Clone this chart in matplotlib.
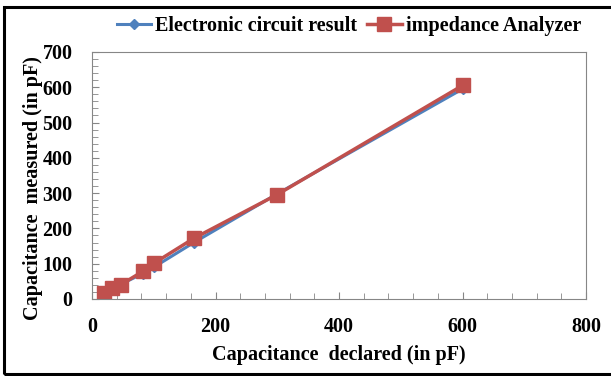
import matplotlib.pyplot as plt
from matplotlib.patches import Rectangle
from matplotlib.ticker import MultipleLocator

plt.rcParams['font.family'] = 'Liberation Serif'
plt.rcParams['font.weight'] = 'bold'

# capacitance declared (pF)
declared = [20, 33, 47, 82, 100, 165, 300, 600]
# measured values
circuit = [18, 30, 42, 72, 90, 160, 298, 595]
analyzer = [17, 31, 41, 78, 101, 172, 296, 605]

fig = plt.figure(figsize=(6.11, 3.76), dpi=100)
ax = fig.add_axes([0.1506, 0.2048, 0.8085, 0.657])

ax.plot(declared, circuit, color='#4F81BD', lw=2.2, marker='D', ms=5,
        label='Electronic circuit result')
ax.plot(declared, analyzer, color='#C0504D', lw=2.5, marker='s', ms=9.5,
        label='impedance Analyzer')

ax.set_xlim(0, 800)
ax.set_ylim(0, 700)
ax.xaxis.set_major_locator(MultipleLocator(200))
ax.xaxis.set_minor_locator(MultipleLocator(40))
ax.yaxis.set_major_locator(MultipleLocator(100))
ax.yaxis.set_minor_locator(MultipleLocator(20))
ax.tick_params(which='both', direction='in', color='#868686', top=False, right=False)
ax.tick_params(which='major', length=5, labelsize=14.5)
ax.tick_params(axis='x', which='major', pad=13)
ax.tick_params(axis='y', which='major', pad=14)
ax.tick_params(which='minor', length=4)
for s in ax.spines.values():
    s.set_color('#868686')

ax.set_xlabel('Capacitance  declared (in pF)', fontsize=14.5, fontweight='bold', labelpad=6)
ax.set_ylabel('Capacitance  measured (in pF)', fontsize=14.5, fontweight='bold', labelpad=0)
ax.yaxis.set_label_coords(-0.10, 0.45)

ax.legend(loc='lower center', bbox_to_anchor=(0.52, 1.0), ncol=2, frameon=False,
          fontsize=14.5, handlelength=1.7, columnspacing=0.5, handletextpad=0.2,
          borderaxespad=0.4)

fig.patches.append(Rectangle((0.006, 0.006), 1.1, 0.976, transform=fig.transFigure,
                             fill=False, ec='black', lw=2.2))

fig.savefig('out.png', dpi=100)
